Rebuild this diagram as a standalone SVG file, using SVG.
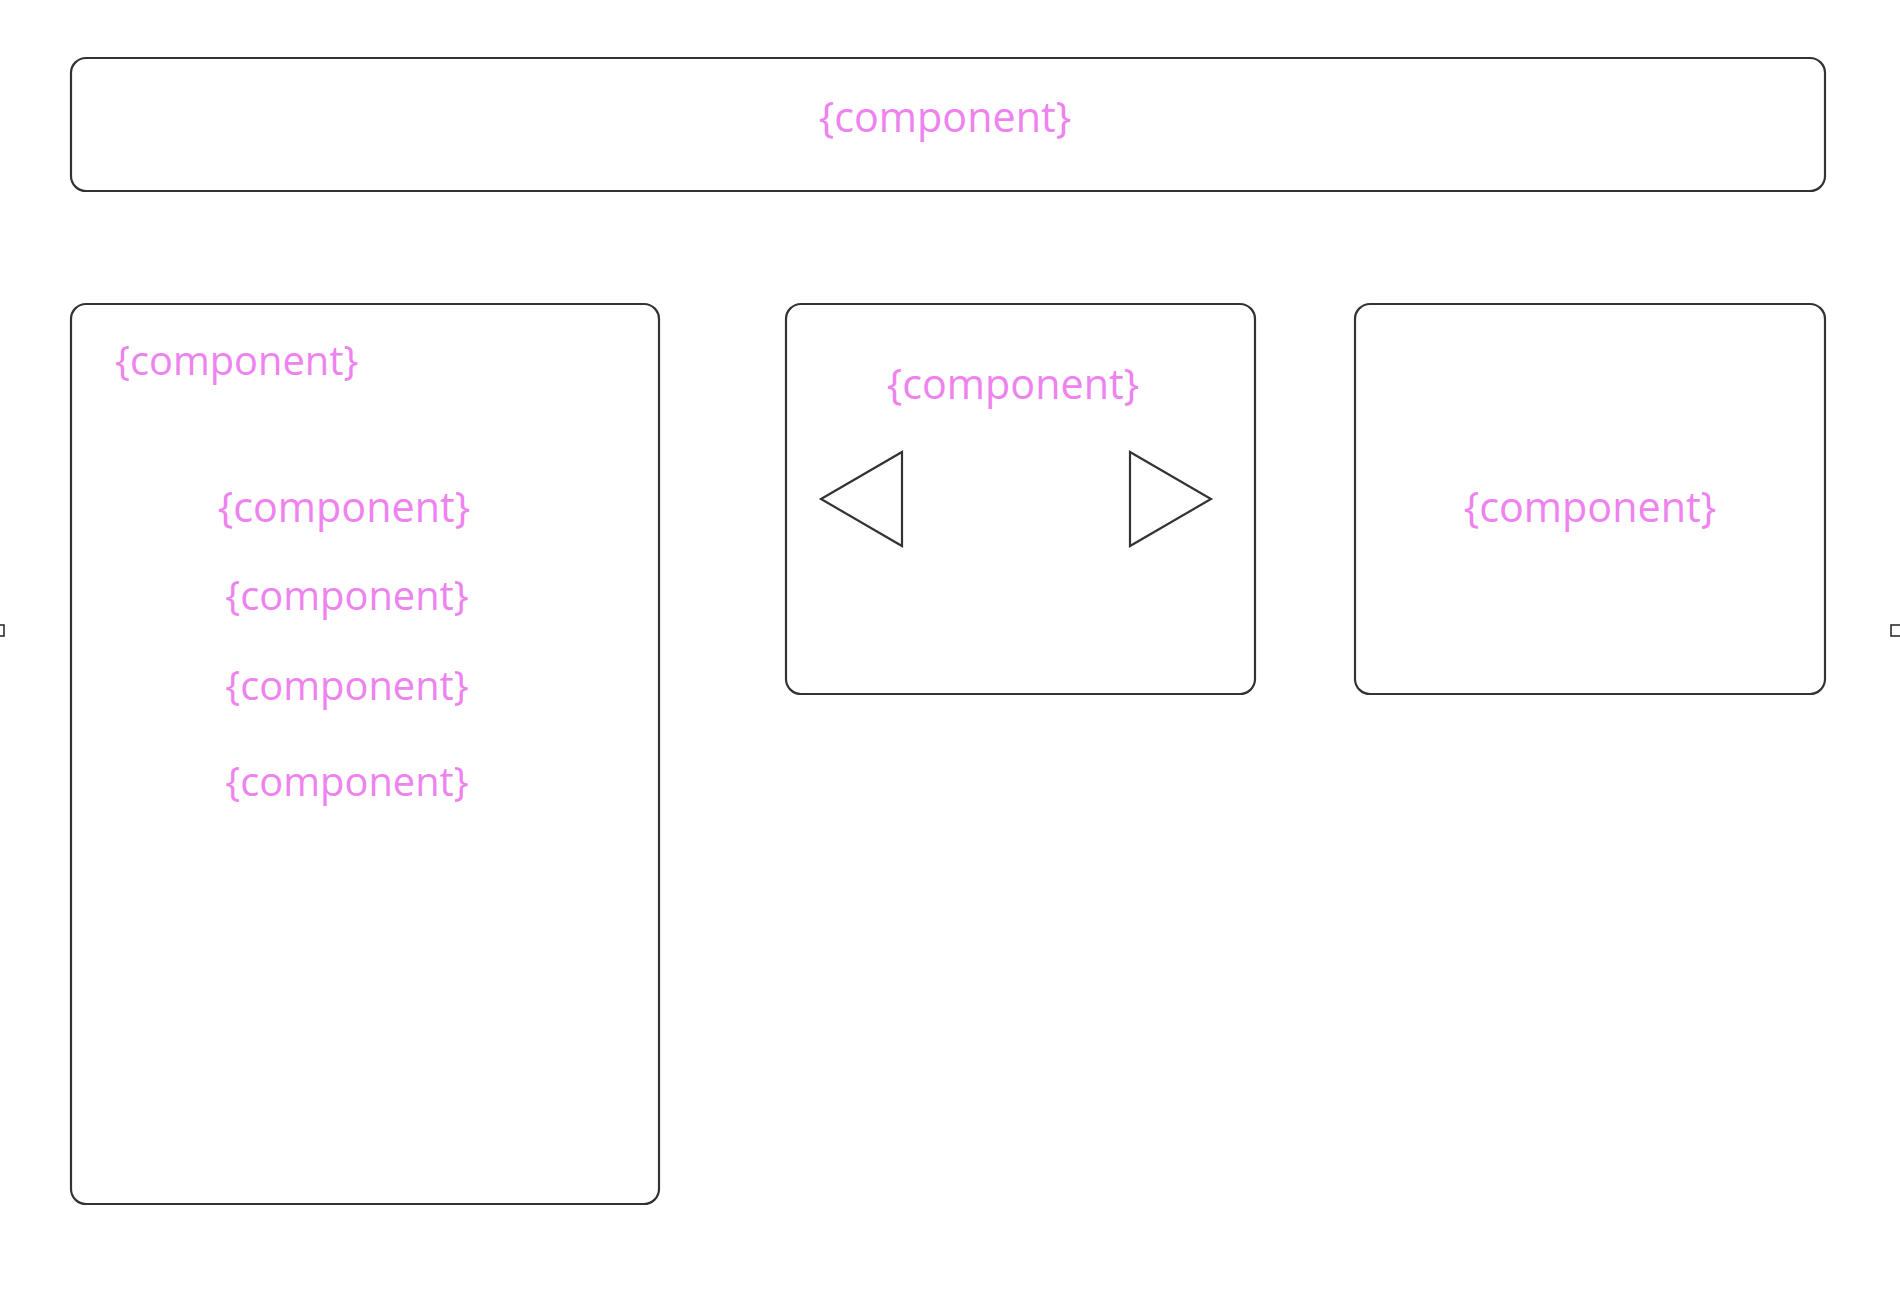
<svg xmlns="http://www.w3.org/2000/svg" width="1900" height="1292" viewBox="0 0 1900 1292">
<style>
.box{fill:#ffffff;stroke:#333333;stroke-width:2.2}
.tri{fill:#ffffff;stroke:#333333;stroke-width:2.2;stroke-linejoin:miter}
.mark{fill:none;stroke:#222222;stroke-width:1.5}
.lbl{font-family:"Open Sans","Noto Sans",sans-serif;fill:#EE82EE}
.big{font-size:41.3px}
.sm{font-size:39.8px}
.mid{text-anchor:middle}
</style>
<rect width="1900" height="1292" fill="#ffffff"/>
<g id="header">
<rect class="box" x="71" y="58" width="1754" height="133" rx="15"/>
<text class="lbl big mid" x="945" y="132">{component}</text>
</g>
<g id="sidebar">
<rect class="box" x="71" y="304" width="588" height="900" rx="15"/>
<text class="lbl sm" x="115" y="375">{component}</text>
<text class="lbl big mid" x="344" y="522">{component}</text>
<text class="lbl sm mid" x="347" y="610">{component}</text>
<text class="lbl sm mid" x="347" y="700">{component}</text>
<text class="lbl sm mid" x="347" y="796">{component}</text>
</g>
<g id="carousel">
<rect class="box" x="786" y="304" width="469" height="390" rx="15"/>
<text class="lbl big mid" x="1013" y="399">{component}</text>
<polygon class="tri" points="821,499 902,452 902,546"/>
<polygon class="tri" points="1130,452 1211,499 1130,546"/>
</g>
<g id="panel">
<rect class="box" x="1355" y="304" width="470" height="390" rx="15"/>
<text class="lbl big mid" x="1590" y="522">{component}</text>
</g>
<g id="edge-marks">
<rect class="mark" x="-6" y="625" width="10" height="11"/>
<rect class="mark" x="1891" y="625" width="10" height="11"/>
</g>
<g id="connectors"></g>
</svg>
